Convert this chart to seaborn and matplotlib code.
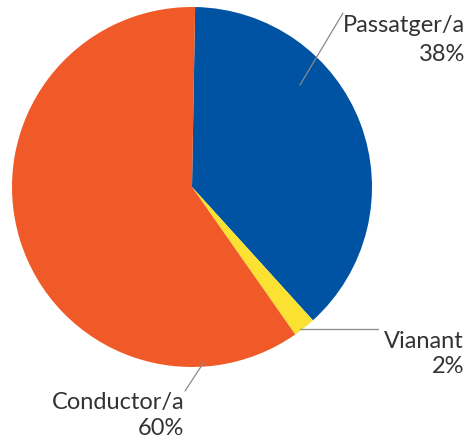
import matplotlib
matplotlib.use("Agg")
import matplotlib.pyplot as plt
import seaborn as sns

categories = ["Passatger/a", "Vianant", "Conductor/a"]
values = [38, 2, 60]
pct_labels = ["38%", "2%", "60%"]
colors = ["#0052A3", "#FBE232", "#F05A28"]

sns.set_theme(style="white")
plt.rcParams['font.family'] = ['Lato', 'DejaVu Sans']

W, H = 474, 439
fig = plt.figure(figsize=(W / 100, H / 100), dpi=100)
cx, cy, r = 192, 188, 180
ax = fig.add_axes([(cx - r) / W, (H - cy - r) / H, 2 * r / W, 2 * r / H])

ax.pie(values, colors=colors, startangle=89, counterclock=False, radius=1,
       wedgeprops=dict(linewidth=0))
ax.set_xlim(-1, 1)
ax.set_ylim(-1, 1)
ax.set_aspect('equal')
ax.axis('off')

def d(px, py):
    return ((px - cx) / r, (cy - py) / r)

# leader lines (pixel -> data)
lines = [((300, 86), (343, 14)), ((300, 330), (378, 330)), ((204, 363), (185, 392))]
for (p0, p1) in lines:
    x0, y0 = d(*p0)
    x1, y1 = d(*p1)
    ax.plot([x0, x1], [y0, y1], color="#8a8a8a", lw=0.9, clip_on=False)

# (right edge, baseline of name, baseline of pct)
txt_pos = [(465, 32, 61), (464, 348, 373), (184, 409, 435)]
for cat, pl, (px, b1, b2) in zip(categories, pct_labels, txt_pos):
    x, y1 = d(px, b1)
    _, y2 = d(px, b2)
    ax.text(x, y1, cat, ha="right", va="baseline", fontsize=17,
            color="#333333", clip_on=False)
    ax.text(x, y2, pl, ha="right", va="baseline", fontsize=17,
            color="#333333", clip_on=False)

fig.savefig("out.png", dpi=100)
